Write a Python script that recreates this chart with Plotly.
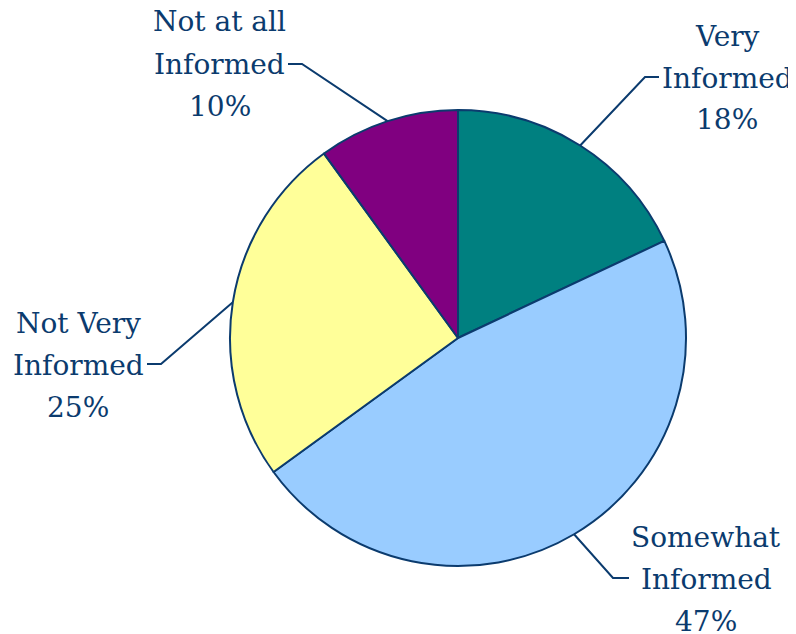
import math
import plotly.graph_objects as go

# ---- data ----
categories = ["Very Informed", "Somewhat Informed", "Not Very Informed", "Not at all Informed"]
label_lines = [["Very", "Informed"], ["Somewhat", "Informed"], ["Not Very", "Informed"], ["Not at all", "Informed"]]
values = [18, 47, 25, 10]
colors = ["#008080", "#99CCFF", "#FFFF99", "#800080"]

# ---- layout ----
OFF = 8  # page body margin of the browser
W, H = 796 - OFF, 634 - OFF
CX, CY, R = 458, 338, 228
TXT = "#0B3B6E"
FONT = "DejaVu Serif"
FS = 28

# label placement (pixels in window): centre x, first line y, line spacing, elbow point, tick end
label_layout = [
    dict(cx=727, y0=37, dy=41, elbow=(645, 77), tick=(659, 77)),
    dict(cx=706, y0=537, dy=42, elbow=(613, 578), tick=(629, 578)),
    dict(cx=78, y0=323, dy=42, elbow=(161, 364), tick=(147, 364)),
    dict(cx=220, y0=22, dy=42, elbow=(302, 64), tick=(288, 64)),
]


def px(x):
    return (x - OFF) / W


def py(y):
    return 1 - (y - OFF) / H


fig = go.Figure(go.Pie(
    labels=categories,
    values=values,
    sort=False,
    direction="clockwise",
    rotation=0,
    marker=dict(colors=colors, line=dict(color=TXT, width=2)),
    textinfo="none",
    hoverinfo="label+percent",
    domain=dict(x=[px(CX - R), px(CX + R)], y=[py(CY + R), py(CY - R)]),
    showlegend=False,
))

total = sum(values)
annotations = []
shapes = []
cum = 0
for i, v in enumerate(values):
    mid = (cum + v / 2) / total * 2 * math.pi
    cum += v
    ex = CX + R * math.sin(mid)
    ey = CY - R * math.cos(mid)
    L = label_layout[i]
    (bx, by), (tx, ty) = L["elbow"], L["tick"]
    shapes.append(dict(
        type="path", xref="paper", yref="paper",
        path=f"M {px(ex)} {py(ey)} L {px(bx)} {py(by)} L {px(tx)} {py(ty)}",
        line=dict(color=TXT, width=2),
    ))
    pct = f"{round(v / total * 100)}%"
    lines = label_lines[i] + [pct]
    for k, t in enumerate(lines):
        annotations.append(dict(
            x=px(L["cx"]), y=py(L["y0"] + k * L["dy"]), xref="paper", yref="paper",
            text=t, showarrow=False, xanchor="center", yanchor="middle",
            font=dict(family=FONT, size=FS, color=TXT),
        ))

fig.update_layout(
    width=W, height=H,
    margin=dict(l=0, r=0, t=0, b=0),
    paper_bgcolor="white", plot_bgcolor="white",
    annotations=annotations, shapes=shapes,
)

fig.write_html("out.html")
